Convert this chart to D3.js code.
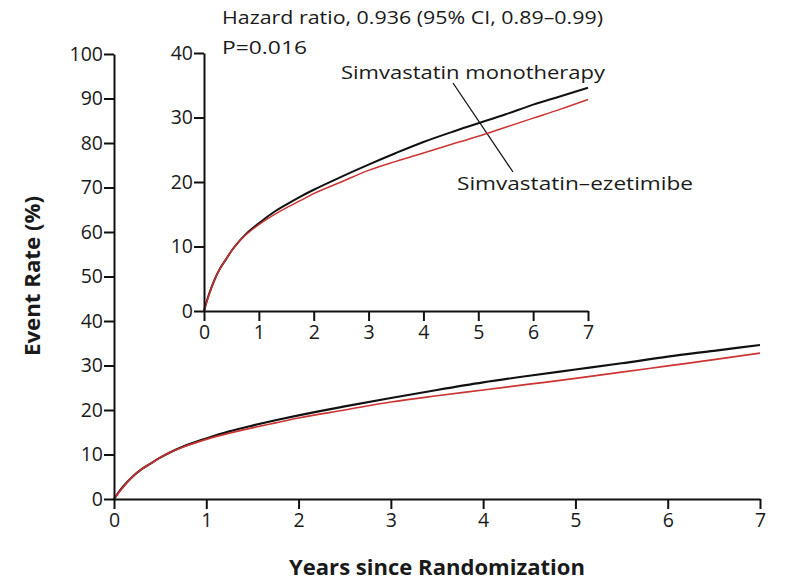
<!DOCTYPE html>
<html><head><meta charset="utf-8">
<script src="https://cdn.jsdelivr.net/npm/d3@7"></script>
<style>body{margin:0;background:#fff}svg{display:block}text{font-family:"Open Sans",sans-serif}</style>
</head><body>
<svg id="c" width="788" height="583"></svg>
<script>
const years = [0,0.05,0.1,0.2,0.3,0.4,0.5,0.6,0.75,1,1.25,1.5,1.75,2,2.5,3,3.5,4,4.5,5,5.5,6,6.5,7];
const monotherapy = [0,1.5,2.8,5.0,6.7,8.0,9.3,10.4,11.8,13.6,15.2,16.5,17.7,18.8,20.8,22.7,24.5,26.2,27.7,29.1,30.5,32.0,33.3,34.6];
const combination = [0,1.4,2.7,5.0,6.7,8.0,9.3,10.4,11.7,13.4,14.8,16.0,17.1,18.2,20.0,21.8,23.2,24.5,25.8,27.1,28.5,29.9,31.3,32.8];
const xTicks = [0,1,2,3,4,5,6,7];
const mainYTicks = [0,10,20,30,40,50,60,70,80,90,100];
const insetYTicks = [0,10,20,30,40];
const seriesNames = ["Simvastatin monotherapy","Simvastatin\u2013ezetimibe"];
const annot = ["Hazard ratio, 0.936 (95% CI, 0.89\u20130.99)","P=0.016"];

const svg = d3.select("#c");
const black = "#111", red = "#cc3333", ink = "#1a1a1a";

function panel(x, y, yTicks, widths){
  const g = svg.append("g");
  const line = d3.line().x((d,i)=>x(years[i])).y(d=>y(d)).curve(d3.curveMonotoneX);
  g.append("path").attr("d", line(monotherapy)).attr("fill","none").attr("stroke",black).attr("stroke-width",widths[0]);
  g.append("path").attr("d", line(combination)).attr("fill","none").attr("stroke",red).attr("stroke-width",widths[1]);
  const ax = g.append("g").attr("transform",`translate(0,${y(0)})`)
    .call(d3.axisBottom(x).tickValues(xTicks).tickFormat(d3.format("d")).tickSize(10).tickPadding(4).tickSizeOuter(0));
  const ay = g.append("g").attr("transform",`translate(${x(0)},0)`)
    .call(d3.axisLeft(y).tickValues(yTicks).tickFormat(d3.format("d")).tickSize(10).tickPadding(1).tickSizeOuter(0));
  [ax,ay].forEach(a=>{
    a.select(".domain").attr("stroke",black).attr("stroke-width",2);
    a.selectAll(".tick line").attr("stroke",black).attr("stroke-width",2);
    a.selectAll(".tick text").attr("fill",ink).style("font-size","19.5px").style("font-family","Open Sans, sans-serif");
  });
  return g;
}

const xm = d3.scaleLinear().domain([0,7]).range([114,760]);
const ym = d3.scaleLinear().domain([0,100]).range([499,54]);
panel(xm, ym, mainYTicks, [2.2,1.7]);

const xi = d3.scaleLinear().domain([0,7]).range([204,588]);
const yi = d3.scaleLinear().domain([0,40]).range([311,53]);
// leader line (behind curves)
svg.append("line").attr("x1",453).attr("y1",83).attr("x2",513).attr("y2",172).attr("stroke",black).attr("stroke-width",1.3);
panel(xi, yi, insetYTicks, [2,1.5]);

svg.append("text").attr("x",222).attr("y",24).attr("textLength",381).attr("lengthAdjust","spacingAndGlyphs")
  .style("font-size","18.5px").attr("fill",ink).text(annot[0]);
svg.append("text").attr("x",222).attr("y",54).attr("textLength",85).attr("lengthAdjust","spacingAndGlyphs")
  .style("font-size","18.5px").attr("fill",ink).text(annot[1]);
svg.append("text").attr("x",341).attr("y",79).attr("textLength",264).attr("lengthAdjust","spacingAndGlyphs")
  .style("font-size","18.5px").attr("fill",ink).text(seriesNames[0]);
svg.append("text").attr("x",457).attr("y",190).attr("textLength",236).attr("lengthAdjust","spacingAndGlyphs")
  .style("font-size","18.5px").attr("fill",ink).text(seriesNames[1]);

svg.append("text").attr("x",437).attr("y",575).attr("text-anchor","middle").attr("textLength",296).attr("lengthAdjust","spacingAndGlyphs")
  .style("font-size","21px").style("font-weight","bold").attr("fill",ink).text("Years since Randomization");
svg.append("text").attr("transform","translate(40,276) rotate(-90)").attr("text-anchor","middle").attr("textLength",160).attr("lengthAdjust","spacingAndGlyphs")
  .style("font-size","22px").style("font-weight","bold").attr("fill",ink).text("Event Rate (%)");
</script>
</body></html>
